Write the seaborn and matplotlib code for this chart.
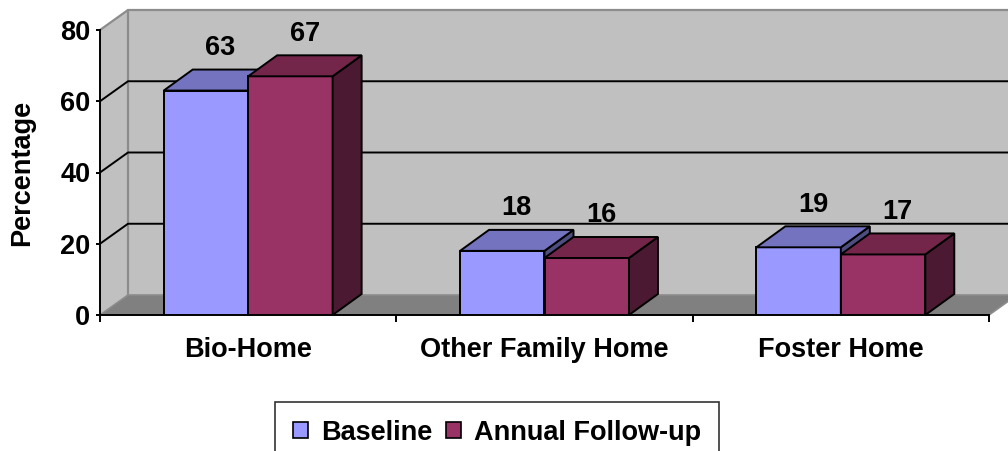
import matplotlib
matplotlib.use("Agg")
import matplotlib.pyplot as plt
from matplotlib.patches import Polygon, Patch
import pandas as pd
import seaborn as sns

# ---- data ----
categories = ["Bio-Home", "Other Family Home", "Foster Home"]
series = ["Baseline", "Annual Follow-up"]
baseline = [63, 18, 19]
follow_up = [67, 16, 17]
y_ticks = [0, 20, 40, 60, 80]

front_colors = {"Baseline": "#9999FF", "Annual Follow-up": "#993366"}
top_colors = {"Baseline": "#7373BF", "Annual Follow-up": "#732649"}
side_colors = {"Baseline": "#4D4D80", "Annual Follow-up": "#4C1933"}

df = pd.DataFrame({
    "Placement": categories * 2,
    "Series": [series[0]] * len(categories) + [series[1]] * len(categories),
    "Percentage": baseline + follow_up,
})

sns.set_theme(style="white")
plt.rcParams["font.family"] = ["Liberation Sans", "DejaVu Sans"]
plt.rcParams["font.weight"] = "bold"
for key in ("text.color", "axes.labelcolor", "xtick.color", "ytick.color",
            "xtick.labelcolor", "ytick.labelcolor"):
    plt.rcParams[key] = "black"
FS = 19.5

W, H = 1008, 451
fig = plt.figure(figsize=(W / 100, H / 100), dpi=100)
L, R, B, T = 100, 989, 315, 30
ax = fig.add_axes([L / W, 1 - B / H, (R - L) / W, (B - T) / H])
ax.set_facecolor("none")

sns.barplot(data=df, x="Placement", y="Percentage", hue="Series",
            palette=front_colors, width=0.57, saturation=1,
            edgecolor="black", linewidth=1.4, legend=False, ax=ax)
ax.set_xlim(-0.5, 2.5)
ax.set_ylim(0, 80)

# depth offsets (screen pixels converted to data units)
px_x = (R - L) / 3.0
px_y = (B - T) / 80.0
dxw, dyw = 28 / px_x, 20 / px_y
dxb, dyb = 29 / px_x, 21 / px_y

x0, x1 = -0.5, 2.5
wall_c, floor_c, edge_c = "#C0C0C0", "#808080", "#8C8C8C"

# back wall, side wall and floor
ax.add_patch(Polygon([(x0 + dxw, dyw), (x1 + dxw + 0.2, dyw),
                      (x1 + dxw + 0.2, 80 + dyw), (x0 + dxw, 80 + dyw)],
                     closed=True, fc=wall_c, ec="none", zorder=0.2, clip_on=False))
ax.add_patch(Polygon([(x0, 0), (x0, 80), (x0 + dxw, 80 + dyw), (x0 + dxw, dyw)],
                     closed=True, fc=wall_c, ec="none", zorder=0.2, clip_on=False))
ax.add_patch(Polygon([(x0, 0), (x1, 0), (x1 + dxw, dyw), (x0 + dxw, dyw)],
                     closed=True, fc=floor_c, ec="none", zorder=0.3, clip_on=False))
# wall edges
ax.plot([x0, x0 + dxw, x1 + dxw + 0.2], [80, 80 + dyw, 80 + dyw],
        color=edge_c, lw=1.6, zorder=0.5, clip_on=False)
ax.plot([x0 + dxw, x0 + dxw], [dyw, 80 + dyw], color=edge_c, lw=1.6,
        zorder=0.5, clip_on=False)
ax.plot([x0, x0 + dxw, x1 + dxw + 0.2], [0, dyw, dyw], color=edge_c, lw=1.2,
        zorder=0.5, clip_on=False)
ax.plot([x1, x1 + dxw], [0, dyw], color=edge_c, lw=1.2, zorder=0.5, clip_on=False)
# gridlines on the walls
for v in y_ticks[1:-1]:
    ax.plot([x0, x0 + dxw, x1 + dxw + 0.2], [v, v + dyw, v + dyw],
            color="black", lw=1.4, zorder=0.6, clip_on=False)

# 3D faces for every bar
for level, (name, container) in enumerate(zip(series, ax.containers)):
    for bar in container:
        bx, bw, bh = bar.get_x(), bar.get_width(), bar.get_height()
        bar.set_zorder(2 + level)
        top = Polygon([(bx, bh), (bx + bw, bh), (bx + bw + dxb, bh + dyb), (bx + dxb, bh + dyb)],
                      closed=True, fc=top_colors[name], ec="black", lw=1.4,
                      zorder=2 + level, clip_on=False)
        side = Polygon([(bx + bw, 0), (bx + bw + dxb, dyb), (bx + bw + dxb, bh + dyb), (bx + bw, bh)],
                       closed=True, fc=side_colors[name], ec="black", lw=1.4,
                       zorder=2 + level, clip_on=False)
        ax.add_patch(side)
        ax.add_patch(top)
        ax.text(bx + bw / 2 + dxb / 2, bh + dyb + 2.4, f"{bh:.0f}",
                ha="center", va="bottom", fontsize=FS, fontweight="bold",
                color="black", zorder=6)

# axes styling
for s in ("top", "right"):
    ax.spines[s].set_visible(False)
for s in ("left", "bottom"):
    ax.spines[s].set_color("black")
    ax.spines[s].set_linewidth(1.4)
    ax.spines[s].set_zorder(1)
ax.set_yticks(y_ticks)
ax.set_yticklabels([str(v) for v in y_ticks], fontsize=FS, fontweight="bold")
ax.tick_params(axis="y", direction="out", length=3, width=1.4, color="black",
               labelcolor="black", pad=4, left=True)
ax.set_xticks(range(len(categories)))
ax.set_xticklabels(categories, fontsize=FS, fontweight="bold")
ax.tick_params(axis="x", which="major", length=0, pad=16, labelcolor="black")
ax.set_xticks([-0.5, 0.5, 1.5, 2.5], minor=True)
ax.tick_params(axis="x", which="minor", direction="out", length=5, width=1.4,
               color="black", bottom=True)
ax.set_xlabel("")
ax.set_ylabel("")
fig.text(22 / W, 1 - 173 / H, "Percentage", rotation=90, ha="center", va="center",
         fontsize=FS, fontweight="bold", color="black")

handles = [Patch(facecolor=front_colors[s], edgecolor="black", linewidth=1.2, label=s)
           for s in series]
leg = fig.legend(handles=handles, loc="upper center", ncol=2,
                 bbox_to_anchor=(497 / W, 1 - 402 / H), frameon=True, fancybox=False,
                 edgecolor="black", handlelength=0.55, handleheight=0.55,
                 handletextpad=0.5, columnspacing=0.5, borderpad=0.65, borderaxespad=0,
                 labelcolor="black", prop={"weight": "bold", "size": FS})
leg.get_frame().set_linewidth(1.2)

fig.savefig("out.png", dpi=100)
